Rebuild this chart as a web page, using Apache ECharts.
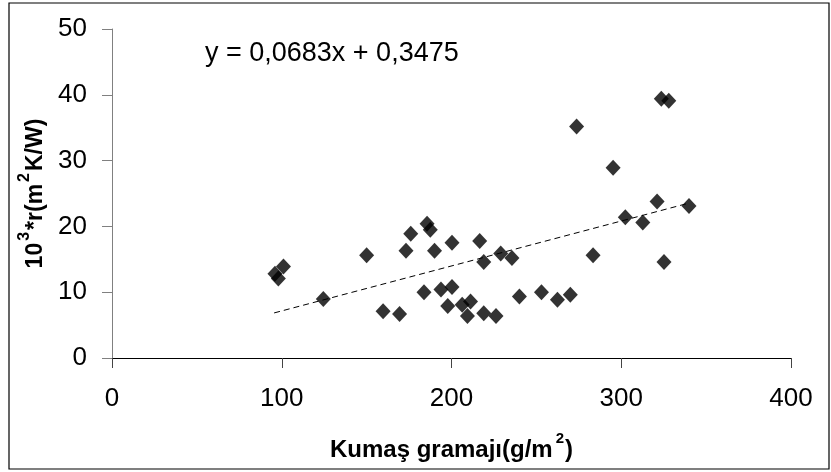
<!DOCTYPE html>
<html>
<head>
<meta charset="utf-8">
<script src="https://cdn.jsdelivr.net/npm/echarts@6/dist/echarts.min.js"></script>
<style>html,body{margin:0;padding:0;background:#fff}#c{width:831px;height:472px}</style>
</head>
<body>
<div id="c"></div>
<script>
// Data
var gramaj = [96, 98, 101, 124.5, 150, 159.7, 169.4, 173.2, 176, 185.6, 187.5, 183.8, 190, 193.8, 200.3, 200.3, 197.8, 206.3, 211.2, 209.4, 216.6, 219, 219, 226.2, 229, 235.6, 240, 253, 262.4, 270, 273.7, 283.4, 295.2, 302.4, 312.7, 321.1, 323.6, 328, 325.2, 339.9];
var resist = [12.8, 12.1, 13.9, 8.96, 15.6, 7.1, 6.7, 16.3, 18.9, 20.4, 19.5, 10.0, 16.3, 10.4, 10.8, 17.5, 7.9, 8.1, 8.6, 6.4, 17.8, 14.6, 6.8, 6.4, 15.9, 15.2, 9.35, 10.0, 8.85, 9.6, 35.2, 15.6, 28.9, 21.4, 20.6, 23.8, 39.4, 39.1, 14.6, 23.1];
var trendX = [95.5, 340];
var trendY = [6.85, 23.55];
var xTicks = [0, 100, 200, 300, 400];
var yTicks = [0, 10, 20, 30, 40, 50];
var equation = 'y = 0,0683x + 0,3475';

var pts = gramaj.map(function (g, i) { return [g, resist[i]]; });
var trend = trendX.map(function (x, i) { return [x, trendY[i]]; });

var chart = echarts.init(document.getElementById('c'), null, {renderer: 'canvas'});
var FONT = 'Liberation Sans, Arial, sans-serif';
chart.setOption({
  animation: false,
  backgroundColor: '#fff',
  grid: {left: 112, right: 40, top: 29, bottom: 114},
  xAxis: {
    type: 'value', min: xTicks[0], max: xTicks[xTicks.length - 1], interval: 100,
    splitLine: {show: false},
    axisLine: {onZero: false, lineStyle: {color: '#000', width: 1}},
    axisTick: {show: true, length: 10, lineStyle: {color: '#444'}},
    axisLabel: {fontFamily: FONT, fontSize: 26, color: '#000', margin: 28},
    name: '{b|Kumaş gramajı(g/m}{s|2}{b|)}',
    nameLocation: 'middle', nameGap: 73,
    nameTextStyle: {
      rich: {
        b: {fontFamily: FONT, fontSize: 24, fontWeight: 'bold', color: '#000', lineHeight: 31, verticalAlign: 'bottom'},
        s: {fontFamily: FONT, fontSize: 15, fontWeight: 'bold', color: '#000', verticalAlign: 'top', padding: [0, 1, 0, 3]}
      }
    }
  },
  yAxis: {
    type: 'value', min: yTicks[0], max: yTicks[yTicks.length - 1], interval: 10,
    splitLine: {show: false},
    axisLine: {show: true, lineStyle: {color: '#808080', width: 1}},
    axisTick: {show: true, length: 10, lineStyle: {color: '#808080'}},
    axisLabel: {fontFamily: FONT, fontSize: 26, color: '#000', margin: 25},
    name: '{b|10}{s|3}{b|*r(m}{s|2}{b|K/W)}',
    nameLocation: 'middle', nameGap: 47,
    nameTextStyle: {
      rich: {
        b: {fontFamily: FONT, fontSize: 23, fontWeight: 'bold', color: '#000', lineHeight: 31, verticalAlign: 'bottom'},
        s: {fontFamily: FONT, fontSize: 16, fontWeight: 'bold', color: '#000', verticalAlign: 'top', padding: [0, 2, 0, 2]}
      }
    }
  },
  series: [
    {
      type: 'line', data: trend, symbol: 'none', silent: true,
      lineStyle: {color: '#000', width: 1, type: [6, 4]}
    },
    {
      type: 'scatter', data: pts, symbol: 'diamond', symbolSize: [15, 16],
      itemStyle: {color: '#000'}
    }
  ],
  graphic: [
    {type: 'rect', shape: {x: 9, y: 3, width: 820, height: 466}, style: {fill: null, stroke: '#000', lineWidth: 1.2}},
    {type: 'text', left: 205, top: 40, style: {text: equation, font: '27px Liberation Sans', fill: '#000'}}
  ]
});
</script>
</body>
</html>
